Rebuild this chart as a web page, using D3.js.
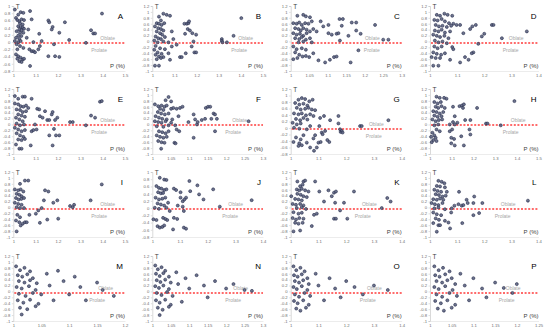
<!DOCTYPE html>
<html>
<head>
<meta charset="utf-8">
<script src="https://cdn.jsdelivr.net/npm/d3@7"></script>
<style>
  body { margin: 0; background: #fff; }
  svg { display: block; font-family: Arial, "Liberation Sans", sans-serif; }
</style>
</head>
<body>
<svg width="550" height="336"></svg>
<script>
// panel settings
var letters = "ABCDEFGHIJKLMNOP".split("");
var xMax  = [1.5, 1.5, 1.3, 1.4,  1.5, 1.3, 1.4, 1.5,  1.5, 1.4, 1.4, 1.4,  1.2, 1.3, 1.4, 1.25];
var xStep = [0.1, 0.1, 0.05, 0.1, 0.1, 0.05, 0.1, 0.1, 0.1, 0.1, 0.1, 0.1, 0.05, 0.05, 0.1, 0.05];
var yMin  = [-0.8, -1, -1, -1,  -1, -1, -0.8, -1,  -1, -0.8, -1, -1,  -1, -1, -1, -1];
var yMax  = [1, 1.2, 1.2, 1.2,  1.2, 1.2, 1.2, 1.2,  1.2, 1, 1.2, 1.2,  1.2, 1.2, 1.2, 1.2];

// [P, T]
var ptsA = [[1.007,0.9],[1.022,0.76],[1.033,0.83],[1.045,0.81],[1.012,0.67],[1.018,0.61],[1.027,0.58],[1.037,0.63],[1.048,0.61],[1.03,0.52],[1.042,0.49],[1.022,0.44],[1.033,0.42],[1.042,0.4],[1.027,0.35],[1.037,0.33],[1.048,0.37],[1.015,0.3],[1.03,0.26],[1.045,0.26],[1.022,0.18],[1.036,0.17],[1.012,0.12],[1.027,0.09],[1.007,0.03],[1.022,0],[1.033,0.03],[1.015,-0.06],[1.03,-0.11],[1.045,-0.16],[1.018,-0.2],[1.012,-0.34],[1.022,-0.39],[1.033,-0.43],[1.042,-0.48],[1.027,-0.53],[1.037,-0.55],[1.048,-0.46],[1.018,-0.46],[1.075,-0.66],[1.072,-0.2],[1.082,-0.25],[1.09,-0.25],[1.097,-0.28],[1.075,0.86],[1.082,0.63],[1.067,0.35],[1.09,0],[1.06,0.12],[1.116,0.23],[1.127,0.03],[1.119,-0.11],[1.112,-0.2],[1.157,0.6],[1.161,0.55],[1.176,0.42],[1.172,0.35],[1.206,0.26],[1.182,-0.06],[1.157,-0.39],[1.187,-0.39],[1.206,-0.41],[1.231,0.55],[1.25,0.06],[1.325,-0.02],[1.348,0.33],[1.358,0.24],[1.366,0.24],[1.397,0.79]];
var ptsB = [[1.05,0.94],[1.065,0.9],[1.08,0.87],[1.03,0.84],[1.039,0.71],[1.02,0.62],[1.03,0.6],[1.042,0.56],[1.054,0.62],[1.012,0.51],[1.027,0.45],[1.039,0.42],[1.05,0.37],[1.02,0.34],[1.035,0.28],[1.045,0.23],[1.015,0.17],[1.027,0.11],[1.039,0.08],[1.057,0.15],[1.009,0.03],[1.024,-0.03],[1.05,0],[1.073,-0.03],[1.015,-0.15],[1.035,-0.23],[1.057,-0.26],[1.009,-0.28],[1.024,-0.37],[1.042,-0.42],[1.015,-0.45],[1.03,-0.51],[1.05,-0.53],[1.02,-0.6],[1.039,-0.56],[1.012,-0.82],[1.03,-0.82],[1.08,-0.62],[1.073,-0.4],[1.088,-0.17],[1.095,0.08],[1.088,0.34],[1.145,0.6],[1.156,0.6],[1.163,0.62],[1.166,0.68],[1.16,0.42],[1.17,0.37],[1.148,0.26],[1.181,0.28],[1.198,0.23],[1.186,0],[1.178,-0.17],[1.19,-0.37],[1.198,-0.37],[1.151,-0.4],[1.125,-0.53],[1.133,-0.53],[1.11,-0.11],[1.314,0.08],[1.314,0.02],[1.317,-0.03],[1.337,-0.03],[1.367,0.19],[1.402,0.79]];
var ptsC = [[1.018,0.87],[1.034,0.9],[1.041,0.85],[1.052,0.82],[1.007,0.62],[1.016,0.6],[1.023,0.64],[1.03,0.56],[1.039,0.62],[1.048,0.6],[1.057,0.68],[1.012,0.45],[1.021,0.42],[1.027,0.37],[1.034,0.45],[1.043,0.4],[1.052,0.34],[1.061,0.42],[1.007,0.28],[1.016,0.23],[1.025,0.26],[1.034,0.19],[1.043,0.28],[1.012,0.11],[1.023,0.08],[1.03,0.15],[1.041,0.06],[1.052,0.11],[1.021,-0.03],[1.034,0],[1.057,-0.03],[1.007,-0.17],[1.016,-0.26],[1.03,-0.23],[1.041,-0.28],[1.012,-0.37],[1.023,-0.45],[1.032,-0.51],[1.041,-0.49],[1.05,-0.53],[1.018,-0.56],[1.007,-0.6],[1.061,-0.4],[1.07,0.34],[1.075,-0.64],[1.081,0.68],[1.088,0.51],[1.093,-0.71],[1.102,0.56],[1.106,-0.62],[1.102,0.28],[1.111,0.23],[1.117,-0.53],[1.124,0.26],[1.129,0.28],[1.133,0.03],[1.138,0.53],[1.132,0.76],[1.141,0.76],[1.156,0.19],[1.162,-0.71],[1.165,0.64],[1.177,0.64],[1.177,0.37],[1.189,0.26],[1.183,-0.3],[1.228,0.56],[1.25,0.06],[1.264,0.06],[1.124,-0.51]];
var ptsD = [[1.025,0.9],[1.037,0.87],[1.053,0.94],[1.065,0.9],[1.082,0.87],[1.016,0.73],[1.028,0.71],[1.043,0.76],[1.055,0.68],[1.07,0.62],[1.086,0.6],[1.098,0.56],[1.111,0.56],[1.021,0.56],[1.033,0.51],[1.046,0.53],[1.062,0.49],[1.078,0.53],[1.018,0.37],[1.031,0.34],[1.043,0.4],[1.055,0.3],[1.074,0.34],[1.012,0.23],[1.025,0.19],[1.037,0.15],[1.053,0.19],[1.068,0.11],[1.018,0.03],[1.031,-0.03],[1.046,0],[1.062,-0.06],[1.016,-0.17],[1.028,-0.23],[1.043,-0.17],[1.082,-0.19],[1.086,-0.26],[1.012,-0.37],[1.025,-0.42],[1.041,-0.45],[1.055,-0.4],[1.006,-0.53],[1.021,-0.56],[1.037,-0.56],[1.074,-0.62],[1.012,-0.82],[1.031,-0.82],[1.123,0.28],[1.148,0.42],[1.156,0.51],[1.169,0.56],[1.191,0.17],[1.2,0.26],[1.178,-0.08],[1.16,-0.37],[1.154,-0.4],[1.129,-0.53],[1.142,-0.62],[1.111,-0.71],[1.228,0.56],[1.234,0.56],[1.265,0.11],[1.357,0.34]];
var ptsE = [[1.007,0.96],[1.022,0.87],[1.042,0.94],[1.052,0.94],[1.082,0.87],[1.007,0.71],[1.022,0.68],[1.033,0.62],[1.045,0.6],[1.057,0.64],[1.067,0.56],[1.015,0.51],[1.03,0.49],[1.042,0.42],[1.057,0.45],[1.022,0.34],[1.037,0.3],[1.052,0.26],[1.012,0.23],[1.027,0.17],[1.042,0.11],[1.015,0.03],[1.03,-0.03],[1.048,0],[1.007,-0.11],[1.022,-0.17],[1.037,-0.23],[1.052,-0.19],[1.015,-0.3],[1.03,-0.37],[1.045,-0.42],[1.022,-0.51],[1.037,-0.53],[1.052,-0.49],[1.012,-0.68],[1.027,-0.82],[1.037,-0.82],[1.078,-0.71],[1.082,-0.23],[1.09,-0.19],[1.104,-0.17],[1.097,0],[1.107,0.53],[1.116,0.51],[1.119,0.28],[1.131,0.23],[1.142,0.45],[1.152,0.15],[1.161,0.15],[1.172,0.34],[1.176,0.42],[1.161,-0.37],[1.176,-0.71],[1.187,0.15],[1.197,0.23],[1.182,-0.15],[1.191,-0.37],[1.206,-0.37],[1.254,0.08],[1.266,0.08],[1.325,-0.03],[1.348,0.3],[1.366,0.23],[1.388,0.77],[1.396,0.79]];
var ptsF = [[1.044,0.93],[1.036,0.82],[1.051,0.78],[1.007,0.68],[1.016,0.62],[1.025,0.64],[1.033,0.6],[1.039,0.64],[1.021,0.53],[1.03,0.49],[1.015,0.42],[1.024,0.37],[1.034,0.34],[1.044,0.37],[1.009,0.28],[1.018,0.23],[1.027,0.19],[1.039,0.17],[1.007,0.11],[1.016,0.08],[1.025,0.06],[1.036,0.11],[1.051,0.06],[1.012,-0.06],[1.03,-0.08],[1.044,-0.03],[1.018,-0.23],[1.027,-0.26],[1.036,-0.3],[1.044,-0.23],[1.012,-0.37],[1.021,-0.42],[1.03,-0.45],[1.039,-0.42],[1.016,-0.56],[1.025,-0.6],[1.033,-0.62],[1.024,-0.82],[1.06,-0.62],[1.063,-0.64],[1.062,-0.03],[1.051,0.53],[1.057,0.56],[1.066,0.53],[1.075,0.56],[1.082,0.6],[1.071,0.28],[1.066,-0.17],[1.073,-0.23],[1.054,0.17],[1.098,0.08],[1.112,0.34],[1.116,0.17],[1.121,0],[1.123,0.08],[1.112,-0.45],[1.134,0.15],[1.143,0.19],[1.145,0.56],[1.151,0.6],[1.157,0.6],[1.16,0.19],[1.166,0.37],[1.17,0.34],[1.175,0.19],[1.17,-0.23],[1.261,0.11]];
var ptsG = [[1.028,0.87],[1.04,0.92],[1.052,0.89],[1.067,0.82],[1.079,0.87],[1.016,0.77],[1.031,0.72],[1.046,0.75],[1.06,0.69],[1.022,0.62],[1.036,0.57],[1.052,0.59],[1.064,0.62],[1.076,0.57],[1.088,0.55],[1.012,0.45],[1.028,0.42],[1.04,0.45],[1.055,0.39],[1.07,0.42],[1.082,0.37],[1.019,0.28],[1.034,0.24],[1.046,0.31],[1.06,0.26],[1.007,0.16],[1.022,0.11],[1.036,0.14],[1.012,0.01],[1.031,-0.02],[1.058,-0.04],[1.07,0.06],[1.019,-0.29],[1.036,-0.35],[1.046,-0.22],[1.01,-0.43],[1.031,-0.47],[1.04,-0.53],[1.028,-0.55],[1.058,-0.45],[1.07,-0.6],[1.082,-0.32],[1.088,-0.22],[1.084,-0.7],[1.106,0.31],[1.12,0.37],[1.103,0.06],[1.112,-0.14],[1.115,-0.19],[1.124,-0.09],[1.1,-0.45],[1.108,-0.43],[1.094,-0.6],[1.132,-0.37],[1.139,-0.43],[1.142,0.24],[1.172,0.37],[1.172,0.14],[1.178,-0.04],[1.18,-0.12],[1.184,-0.09],[1.187,-0.14],[1.25,0.06],[1.256,0.06],[1.352,0.24]];
var ptsH = [[1.03,0.94],[1.045,0.9],[1.065,0.9],[1.076,0.87],[1.02,0.76],[1.035,0.71],[1.05,0.76],[1.026,0.6],[1.038,0.56],[1.053,0.62],[1.068,0.56],[1.015,0.45],[1.03,0.42],[1.045,0.37],[1.061,0.42],[1.02,0.3],[1.035,0.26],[1.053,0.28],[1.011,0.17],[1.026,0.11],[1.041,0.15],[1.056,0.17],[1.02,-0.03],[1.038,0],[1.03,-0.17],[1.045,-0.23],[1.011,-0.28],[1.02,-0.37],[1.005,-0.42],[1.026,-0.45],[1.015,-0.53],[1.03,-0.56],[1.008,-0.6],[1.106,0.6],[1.114,0.28],[1.136,0.62],[1.147,0.64],[1.152,0.56],[1.156,0.68],[1.091,0],[1.106,0.08],[1.114,0],[1.126,0.06],[1.162,0.15],[1.186,0.15],[1.091,-0.23],[1.102,-0.17],[1.098,-0.45],[1.111,-0.49],[1.098,-0.64],[1.114,-0.71],[1.144,-0.4],[1.156,-0.71],[1.182,-0.17],[1.186,-0.34],[1.217,0.56],[1.258,0.03],[1.265,0.03],[1.326,-0.03],[1.389,0.79]];
var ptsI = [[1.03,0.8],[1.052,0.91],[1.067,0.91],[1.007,0.61],[1.022,0.58],[1.033,0.61],[1.045,0.54],[1.015,0.46],[1.027,0.43],[1.037,0.38],[1.012,0.32],[1.024,0.27],[1.036,0.29],[1.048,0.32],[1.007,0.16],[1.022,0.12],[1.037,0.09],[1.015,0.01],[1.03,-0.02],[1.048,-0.02],[1.018,-0.25],[1.03,-0.33],[1.012,-0.44],[1.027,-0.5],[1.042,-0.55],[1.052,-0.5],[1.033,-0.61],[1.015,-0.81],[1.06,-0.5],[1.072,-0.25],[1.101,-0.21],[1.112,-0.1],[1.119,-0.52],[1.127,-0.02],[1.137,0.24],[1.142,0.58],[1.157,0.54],[1.152,-0.41],[1.179,0.16],[1.197,0.24],[1.201,-0.38],[1.254,0.05],[1.266,0.01],[1.272,0.09],[1.346,0.24],[1.396,0.78]];
var ptsJ = [[1.027,0.84],[1.043,0.79],[1.051,0.78],[1.015,0.61],[1.024,0.56],[1.033,0.54],[1.043,0.5],[1.051,0.52],[1.021,0.44],[1.031,0.41],[1.039,0.42],[1.012,0.29],[1.024,0.24],[1.036,0.26],[1.047,0.29],[1.019,0.13],[1.031,0.1],[1.043,0.07],[1.057,0.15],[1.009,0.01],[1.024,-0.02],[1.051,0.01],[1.063,-0.08],[1.004,-0.31],[1.015,-0.33],[1.039,-0.27],[1.047,-0.3],[1.054,-0.33],[1.019,-0.5],[1.027,-0.54],[1.036,-0.52],[1.043,-0.48],[1.075,-0.59],[1.078,-0.27],[1.09,-0.3],[1.078,0.54],[1.086,0.5],[1.102,0.44],[1.092,0.07],[1.102,0.29],[1.11,0.04],[1.114,-0.08],[1.11,0.19],[1.116,0.24],[1.122,0.29],[1.114,-0.54],[1.122,-0.57],[1.134,0.75],[1.137,0.47],[1.163,0.63],[1.169,0.38],[1.185,0.24],[1.22,0.52],[1.244,0.04],[1.359,0.22]];
var ptsK = [[1.024,0.88],[1.046,0.88],[1.052,0.91],[1.034,0.72],[1.043,0.77],[1.022,0.61],[1.031,0.58],[1.04,0.63],[1.052,0.58],[1.064,0.54],[1.024,0.46],[1.036,0.43],[1.046,0.38],[1.058,0.35],[1.016,0.29],[1.028,0.27],[1.04,0.24],[1.007,0.12],[1.019,0.09],[1.034,0.12],[1.046,0.07],[1.022,-0.02],[1.04,0.01],[1.055,-0.05],[1.01,-0.16],[1.028,-0.21],[1.04,-0.18],[1.007,-0.36],[1.019,-0.41],[1.031,-0.36],[1.046,-0.38],[1.016,-0.52],[1.028,-0.55],[1.043,-0.52],[1.01,-0.81],[1.034,-0.78],[1.002,0.38],[1.076,-0.63],[1.084,-0.25],[1.094,-0.21],[1.088,0.88],[1.103,0.54],[1.12,0.2],[1.136,0.58],[1.148,0.38],[1.156,0.5],[1.163,0.54],[1.156,-0.38],[1.163,-0.38],[1.16,0.16],[1.178,-0.1],[1.192,0.16],[1.204,-0.38],[1.228,0.54],[1.328,-0.02],[1.348,0.32],[1.36,0.2]];
var ptsL = [[1.031,0.9],[1.043,0.87],[1.053,0.82],[1.025,0.73],[1.037,0.71],[1.055,0.68],[1.016,0.6],[1.028,0.56],[1.041,0.53],[1.062,0.53],[1.021,0.45],[1.033,0.42],[1.046,0.37],[1.058,0.4],[1.012,0.28],[1.025,0.26],[1.037,0.3],[1.049,0.26],[1.006,0.15],[1.018,0.11],[1.031,0.08],[1.046,0.15],[1.016,-0.03],[1.031,0],[1.055,-0.06],[1.012,-0.17],[1.025,-0.23],[1.041,-0.26],[1.078,-0.17],[1.021,-0.37],[1.033,-0.42],[1.012,-0.53],[1.031,-0.6],[1.037,-0.6],[1.055,-0.45],[1.068,-0.51],[1.074,-0.71],[1.025,-0.82],[1.08,-0.03],[1.09,0.06],[1.105,0.11],[1.107,0.53],[1.117,0.06],[1.123,0.08],[1.119,-0.53],[1.135,0.26],[1.139,0.15],[1.16,0.15],[1.16,-0.26],[1.163,0.37],[1.181,-0.19],[1.193,0.15],[1.361,0.23]];
var ptsM = [[1.005,0.85],[1.012,0.72],[1.02,0.8],[1.03,0.68],[1.008,0.55],[1.016,0.5],[1.025,0.58],[1.035,0.45],[1.01,0.35],[1.02,0.3],[1.03,0.38],[1.042,0.28],[1.006,0.15],[1.015,0.1],[1.028,0.18],[1.04,0.05],[1.01,-0.08],[1.022,-0.15],[1.035,-0.05],[1.05,-0.1],[1.008,-0.3],[1.018,-0.38],[1.03,-0.28],[1.045,-0.42],[1.012,-0.55],[1.025,-0.6],[1.04,-0.5],[1.015,-0.78],[1.06,0.6],[1.065,0.2],[1.072,-0.3],[1.08,0.7],[1.09,0.35],[1.1,-0.1],[1.11,0.5],[1.12,0.15],[1.13,-0.3],[1.15,0.3],[1.16,0.05],[1.18,-0.15]];
var ptsN = [[1.008,0.88],[1.015,0.75],[1.025,0.82],[1.035,0.7],[1.01,0.6],[1.02,0.52],[1.03,0.62],[1.045,0.5],[1.012,0.38],[1.022,0.32],[1.035,0.4],[1.05,0.3],[1.008,0.18],[1.018,0.12],[1.03,0.2],[1.045,0.08],[1.012,-0.05],[1.025,-0.12],[1.04,-0.02],[1.055,-0.15],[1.01,-0.3],[1.02,-0.38],[1.035,-0.28],[1.05,-0.45],[1.015,-0.55],[1.028,-0.62],[1.045,-0.52],[1.02,-0.8],[1.065,0.65],[1.07,0.25],[1.08,-0.35],[1.09,0.45],[1.1,0.1],[1.12,0.55],[1.14,0.2],[1.15,-0.2],[1.17,0.35],[1.2,0.1],[1.22,0.25],[1.25,0.05],[1.27,0.02]];
var ptsO = [[1.01,0.85],[1.02,0.72],[1.035,0.8],[1.05,0.68],[1.012,0.55],[1.025,0.5],[1.04,0.58],[1.06,0.45],[1.015,0.35],[1.03,0.3],[1.045,0.38],[1.065,0.25],[1.01,0.15],[1.022,0.08],[1.04,0.18],[1.06,0.05],[1.015,-0.1],[1.03,-0.18],[1.05,-0.05],[1.07,-0.15],[1.012,-0.32],[1.025,-0.4],[1.045,-0.3],[1.065,-0.45],[1.02,-0.58],[1.035,-0.65],[1.055,-0.55],[1.09,0.6],[1.1,0.2],[1.12,-0.3],[1.14,0.45],[1.16,0.1],[1.18,-0.2],[1.2,0.35],[1.23,0.15],[1.26,-0.1],[1.3,0.2],[1.35,0.05]];
var ptsP = [[1.01,0.85],[1.02,0.72],[1.03,0.8],[1.045,0.68],[1.012,0.55],[1.022,0.5],[1.035,0.58],[1.05,0.45],[1.015,0.35],[1.028,0.3],[1.04,0.38],[1.058,0.25],[1.01,0.15],[1.02,0.08],[1.035,0.18],[1.052,0.05],[1.015,-0.1],[1.028,-0.18],[1.045,-0.05],[1.062,-0.15],[1.012,-0.32],[1.025,-0.4],[1.04,-0.3],[1.058,-0.45],[1.018,-0.58],[1.032,-0.65],[1.05,-0.55],[1.07,0.6],[1.08,0.2],[1.09,-0.3],[1.1,0.45],[1.12,0.1],[1.13,-0.2],[1.15,0.3],[1.17,0.12],[1.19,-0.05],[1.2,0.25]];

var panelPts = [ptsA, ptsB, ptsC, ptsD, ptsE, ptsF, ptsG, ptsH, ptsI, ptsJ, ptsK, ptsL, ptsM, ptsN, ptsO, ptsP];

// layout (pixels)
var colLeft  = [13.3, 152.3, 290.7, 430];
var colRight = [125, 263, 401.7, 538.5];
var rowTop   = [6, 89, 172, 256];
var plotH = 65;
// where the Oblate / Prolate notes end, measured from the plot's right edge
var oblateGap  = [10, 10, 22, 15,  10, 16, 18, 13,  10, 20, 25, 23,  12, 15, 20, 18];
var prolateGap = [18, 16, 22, 20,  18, 22, 20, 20,  18, 25, 31, 28,  20, 22, 26, 24];

var svg = d3.select("svg");
var fmt = function(d) { return String(+d.toFixed(2)); };

panelPts.forEach(function(pts, i) {
  var col = i % 4, row = Math.floor(i / 4);
  var x0 = colLeft[col], x1 = colRight[col];
  var y0 = rowTop[row], y1 = y0 + plotH;

  var x = d3.scaleLinear().domain([1, xMax[i]]).range([x0, x1]);
  var y = d3.scaleLinear().domain([yMin[i], yMax[i]]).range([y1, y0]);

  var xt = d3.range(0, Math.round((xMax[i] - 1) / xStep[i]) + 1).map(function(k) { return 1 + k * xStep[i]; });
  var yt = d3.range(0, Math.round((yMax[i] - yMin[i]) / 0.2) + 1).map(function(k) { return yMin[i] + k * 0.2; });

  var g = svg.append("g").attr("class", "panel");

  // axes
  g.append("g")
    .attr("transform", "translate(" + x0 + ",0)")
    .call(d3.axisLeft(y).tickValues(yt).tickSize(1.5).tickPadding(1.5).tickFormat(fmt))
    .call(function(a) {
      a.select(".domain").attr("stroke", "#bfbfbf").attr("stroke-width", 0.6);
      a.selectAll(".tick line").attr("stroke", "#bfbfbf").attr("stroke-width", 0.5);
      a.selectAll("text").attr("font-size", 4.2).attr("fill", "#6e6e6e");
    });

  g.append("g")
    .attr("transform", "translate(0," + y1 + ")")
    .call(d3.axisBottom(x).tickValues(xt).tickSize(0).tickPadding(3).tickFormat(fmt))
    .call(function(a) {
      a.select(".domain").attr("stroke", "#d9d9d9").attr("stroke-width", 0.5);
      a.selectAll("text").attr("font-size", 4.2).attr("fill", "#6e6e6e");
    });

  // T = 0 reference; kept on a two-pixel band so the red survives
  var yz = Math.round(y(0) / 2) * 2 + 1;
  g.append("line")
    .attr("x1", x0 + 1).attr("x2", x1)
    .attr("y1", yz).attr("y2", yz)
    .attr("stroke", "#ff3b3b")
    .attr("stroke-width", 1.3)
    .attr("stroke-dasharray", "2,1.6");

  g.append("text").attr("x", x1 - oblateGap[i]).attr("y", yz - 3.5)
    .attr("text-anchor", "end").attr("font-size", 5).attr("fill", "#a6a6a6").text("Oblate");
  g.append("text").attr("x", x1 - prolateGap[i]).attr("y", yz + 8.5)
    .attr("text-anchor", "end").attr("font-size", 5).attr("fill", "#a6a6a6").text("Prolate");

  // points
  g.append("g").selectAll("circle")
    .data(pts)
    .enter().append("circle")
      .attr("cx", function(d) { return x(d[0]); })
      .attr("cy", function(d) { return y(d[1]); })
      .attr("r", 1.5)
      .attr("fill", "#5d6482")
      .attr("fill-opacity", 0.9)
      .attr("stroke", "#262e4c")
      .attr("stroke-width", 0.6);

  // labels
  g.append("text").attr("x", x0 + 2.5).attr("y", y0 + 2.5)
    .attr("font-size", 6.5).attr("fill", "#404040").text("T");
  g.append("text").attr("x", x1).attr("y", y1 - 3)
    .attr("text-anchor", "end").attr("font-size", 6).attr("fill", "#404040").text("P (%)");
  g.append("text").attr("x", x1 - 2).attr("y", y0 + 12.5)
    .attr("text-anchor", "end").attr("font-size", 8).attr("fill", "#000").text(letters[i]);
});
</script>
</body>
</html>
